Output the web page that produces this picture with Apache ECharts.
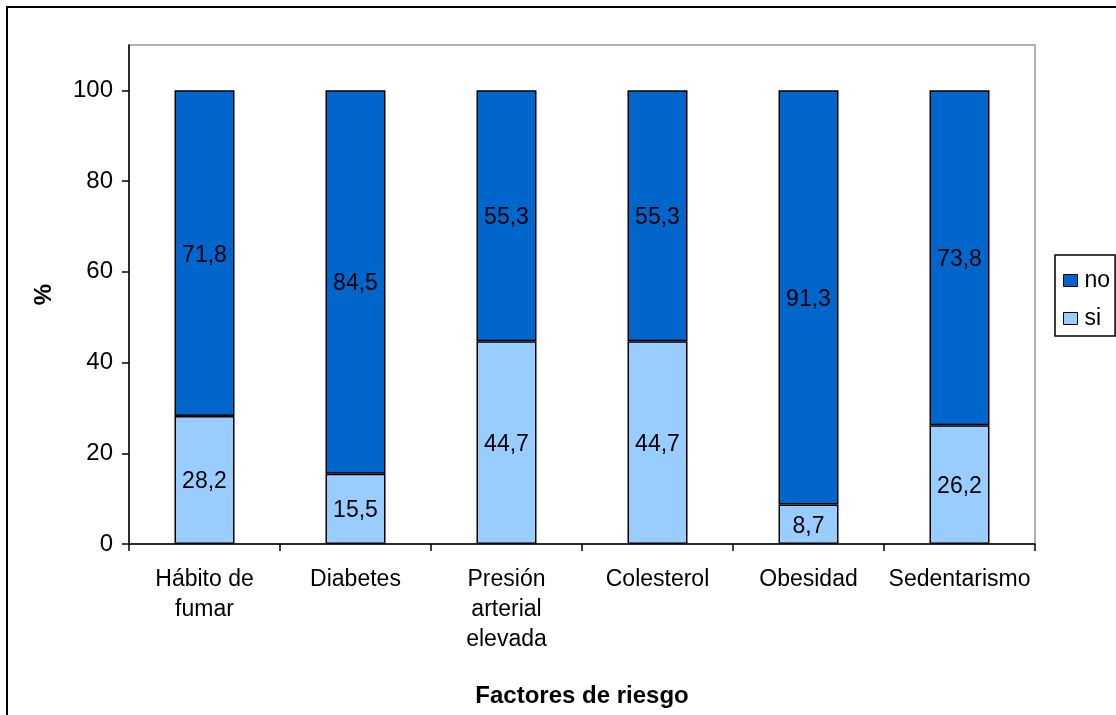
<!DOCTYPE html>
<html>
<head>
<meta charset="utf-8">
<script src="https://cdn.jsdelivr.net/npm/echarts@6/dist/echarts.min.js"></script>
<style>html,body{margin:0;padding:0;background:#fff;}#c{width:1116px;height:715px;}</style>
</head>
<body>
<div id="c"></div>
<script>
const categories = ['Hábito de\nfumar', 'Diabetes', 'Presión\narterial\nelevada', 'Colesterol', 'Obesidad', 'Sedentarismo'];
const siValues = [28.2, 15.5, 44.7, 44.7, 8.7, 26.2];
const noValues = [71.8, 84.5, 55.3, 55.3, 91.3, 73.8];
const yTicks = [0, 20, 40, 60, 80, 100];

const FONT = '"Liberation Sans", Arial, sans-serif';
const chart = echarts.init(document.getElementById('c'), null, {renderer: 'canvas'});
const labelFmt = p => p.value.toFixed(1).replace('.', ',');
chart.setOption({
  animation: false,
  backgroundColor: '#fff',
  textStyle: {fontFamily: FONT},
  graphic: [{
    type: 'rect', shape: {x: 7, y: 7, width: 1200, height: 800},
    style: {fill: 'none', stroke: '#000', lineWidth: 2}, z: 100, silent: true
  }],
  legend: {
    orient: 'vertical', left: 1055, top: 255,
    data: ['no', 'si'],
    icon: 'rect', itemWidth: 14, itemHeight: 12, itemGap: 15,
    padding: [14, 5, 6, 8],
    borderColor: '#000', borderWidth: 1.5,
    textStyle: {fontSize: 23, color: '#000', fontFamily: FONT, padding: [0, 0, 0, 2]},
    itemStyle: {borderColor: '#000', borderWidth: 1}
  },
  grid: {left: 129, top: 45, right: 81, bottom: 171, show: true, borderColor: '#999', borderWidth: 1.5, outerBoundsMode: 'none', containLabel: false},
  xAxis: {
    type: 'category', data: categories,
    name: 'Factores de riesgo', nameLocation: 'middle', nameGap: 140,
    nameTextStyle: {fontSize: 24, fontWeight: 'bold', color: '#000', fontFamily: FONT},
    axisLine: {lineStyle: {color: '#000', width: 1.5}},
    axisTick: {show: true, length: 7, lineStyle: {color: '#000', width: 1.5}},
    axisLabel: {fontSize: 23, color: '#000', margin: 21, lineHeight: 30, fontFamily: FONT, interval: 0}
  },
  yAxis: {
    type: 'value', min: 0, max: 110, interval: 20,
    name: '%', nameLocation: 'middle', nameGap: 73, nameRotate: 90,
    nameTextStyle: {fontSize: 24, fontWeight: 'bold', color: '#000', fontFamily: FONT},
    splitLine: {show: false},
    axisLine: {show: true, lineStyle: {color: '#000', width: 1.5}},
    axisTick: {show: true, length: 7, lineStyle: {color: '#000', width: 1.5}, customValues: yTicks},
    axisLabel: {fontSize: 24, color: '#000', margin: 16, fontFamily: FONT, customValues: yTicks}
  },
  series: [
    {
      name: 'si', type: 'bar', stack: 'total', data: siValues, barWidth: 60,
      itemStyle: {color: '#99CCFF', borderColor: '#000', borderWidth: 1.5},
      label: {show: true, position: 'inside', offset: [0, 2], formatter: labelFmt, fontSize: 23, color: '#000', fontFamily: FONT}
    },
    {
      name: 'no', type: 'bar', stack: 'total', data: noValues, barWidth: 60,
      itemStyle: {color: '#0066CC', borderColor: '#000', borderWidth: 1.5},
      label: {show: true, position: 'inside', offset: [0, 2], formatter: labelFmt, fontSize: 23, color: '#000', fontFamily: FONT}
    }
  ]
});
</script>
</body>
</html>
